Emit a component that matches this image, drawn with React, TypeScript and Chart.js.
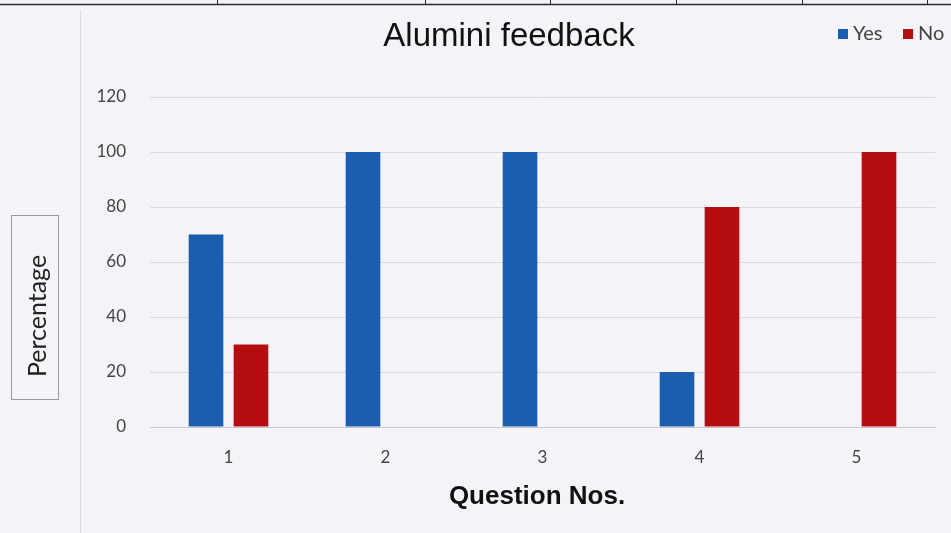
import React, { useEffect, useRef } from "react";
import { Chart, registerables } from "chart.js";

Chart.register(...registerables);

const categories = ["1", "2", "3", "4", "5"];
const yesValues = [70, 100, 100, 20, 0];
const noValues = [30, 0, 0, 80, 100];
const yTicks = [0, 20, 40, 60, 80, 100, 120];

const BLUE = "#1b5dae";
const RED = "#b50d10";
const FONT = "Lato, 'Open Sans', sans-serif";

const decorPlugin = {
  id: "decor",
  beforeDraw(chart: any) {
    const ctx = chart.ctx;
    ctx.save();
    ctx.fillStyle = "#f4f3f7";
    ctx.fillRect(0, 0, chart.width, chart.height);
    // scanned page table border at top
    ctx.strokeStyle = "#2a2a2a";
    ctx.lineWidth = 1.6;
    ctx.beginPath();
    ctx.moveTo(0, 4.5);
    ctx.lineTo(chart.width, 4.5);
    ctx.stroke();
    ctx.lineWidth = 1;
    [217, 425, 550, 676, 802, 927].forEach((x) => {
      ctx.beginPath();
      ctx.moveTo(x + 0.5, 0);
      ctx.lineTo(x + 0.5, 4);
      ctx.stroke();
    });
    // faint chart frame line
    ctx.strokeStyle = "#dcdbe2";
    ctx.beginPath();
    ctx.moveTo(80.5, 10);
    ctx.lineTo(80.5, chart.height);
    ctx.stroke();
    ctx.restore();
  },
  afterDraw(chart: any) {
    const ctx = chart.ctx;
    ctx.save();
    // title
    ctx.fillStyle = "#111";
    ctx.font = "33px 'Liberation Sans', Arial, sans-serif";
    ctx.textAlign = "center";
    ctx.textBaseline = "middle";
    ctx.fillText("Alumini feedback", 509, 37);
    // x axis title
    ctx.font = "bold 26px 'Liberation Sans', Arial, sans-serif";
    ctx.fillText("Question Nos.", 537, 497);
    // legend
    ctx.font = "20px " + FONT;
    ctx.textAlign = "left";
    ctx.fillStyle = BLUE;
    ctx.fillRect(838, 29, 10, 10);
    ctx.fillStyle = "#444";
    ctx.fillText("Yes", 853, 34);
    ctx.fillStyle = RED;
    ctx.fillRect(903, 29, 10, 10);
    ctx.fillStyle = "#444";
    ctx.fillText("No", 918, 34);
    // y axis title box
    ctx.strokeStyle = "#9a9a9a";
    ctx.lineWidth = 1;
    ctx.strokeRect(11.5, 215.5, 47, 184);
    ctx.translate(38, 316);
    ctx.rotate(-Math.PI / 2);
    ctx.textAlign = "center";
    ctx.fillStyle = "#222";
    ctx.font = "25px " + FONT;
    ctx.fillText("Percentage", 0, 0);
    ctx.restore();
  },
};

export default function App() {
  const ref = useRef<HTMLCanvasElement>(null);
  useEffect(() => {
    document.body.style.margin = "0";
    const chart = new Chart(ref.current!, {
      type: "bar",
      data: {
        labels: categories,
        datasets: [
          {
            label: "Yes",
            data: yesValues,
            backgroundColor: BLUE,
            categoryPercentage: 0.573,
            barPercentage: 0.77,
          },
          {
            label: "No",
            data: noValues,
            backgroundColor: RED,
            categoryPercentage: 0.573,
            barPercentage: 0.77,
          },
        ],
      },
      options: {
        animation: false,
        responsive: false,
        layout: { padding: { top: 97, right: 16, left: 0, bottom: 0 } },
        plugins: {
          legend: { display: false },
          title: { display: false },
          tooltip: { enabled: false },
        },
        scales: {
          x: {
            grid: { display: false, drawTicks: false },
            border: { color: "#c9c9cf", width: 1 },
            ticks: {
              padding: 20,
              color: "#444",
              font: { family: FONT, size: 17 },
            },
            afterFit(scale: any) {
              scale.height = 106;
            },
          },
          y: {
            min: 0,
            max: 120,
            afterBuildTicks(scale: any) {
              scale.ticks = yTicks.map((v) => ({ value: v }));
            },
            grid: { color: "#d8d8de", drawTicks: false },
            border: { display: false },
            ticks: {
              padding: 24,
              color: "#444",
              font: { family: FONT, size: 17 },
            },
            afterFit(scale: any) {
              scale.width = 150;
            },
          },
        },
      },
      plugins: [decorPlugin],
    });
    return () => chart.destroy();
  }, []);
  return (
    <div style={{ width: 951, height: 533 }}>
      <canvas ref={ref} width={951} height={533} />
    </div>
  );
}
